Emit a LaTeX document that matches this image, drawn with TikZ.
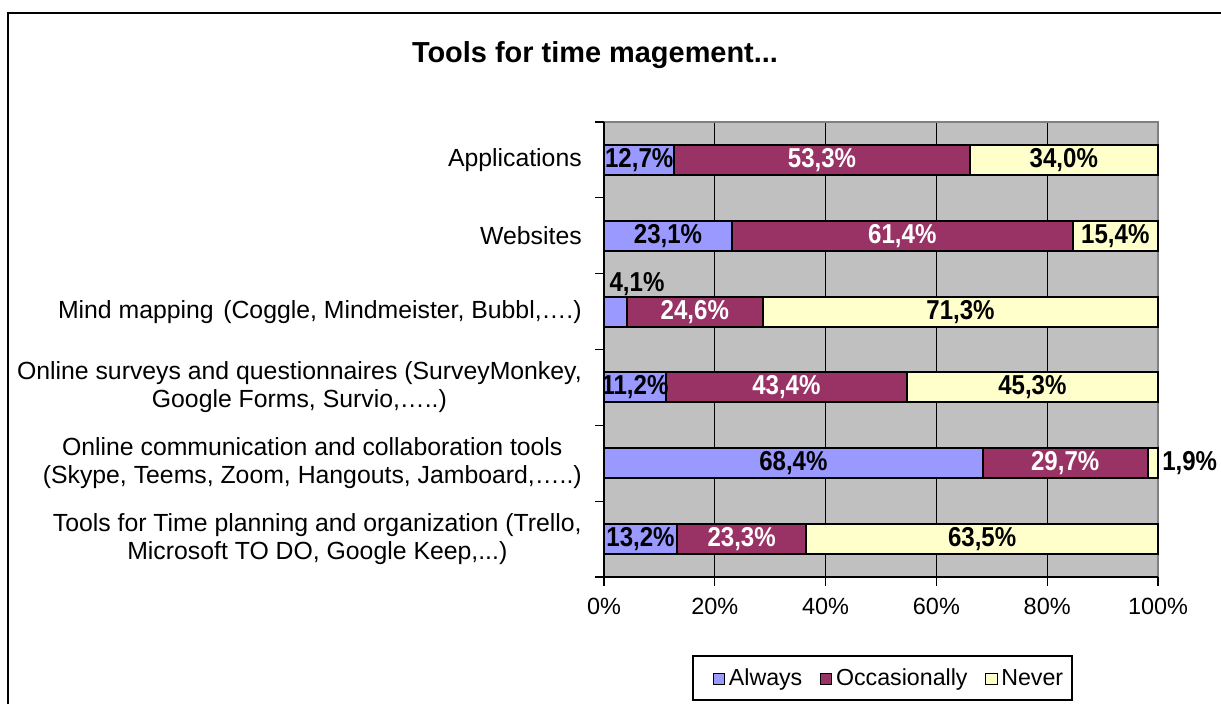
\documentclass[tikz,border=0pt]{standalone}
\usepackage{fontspec}
\setmainfont{Liberation Sans}
\newfontfamily\valfont[FakeStretch=0.88]{Liberation Sans}
\usetikzlibrary{positioning}

\definecolor{always}{RGB}{153,153,255}
\definecolor{occas}{RGB}{153,51,102}
\definecolor{never}{RGB}{255,255,204}
\definecolor{plotgray}{RGB}{192,192,192}
\definecolor{rimgray}{RGB}{128,128,128}

\tikzset{
  seg/.style={draw=black, line width=1.5pt},
  val/.style={inner sep=0pt, font=\valfont\fontsize{20.5}{24}\selectfont\bfseries},
  cat/.style={anchor=east, inner sep=0pt, align=center, font=\fontsize{18.6}{21}\selectfont},
  axlabel/.style={inner sep=0pt, font=\fontsize{17.6}{21}\selectfont},
  lgbox/.style={draw=black, line width=0.9pt, minimum size=8.5pt, inner sep=0pt},
  lgtext/.style={inner sep=0pt, text height=12.5pt, text depth=3.5pt, font=\fontsize{17.4}{20}\selectfont}
}

\begin{document}
\begin{tikzpicture}[x=0.75pt,y=0.75pt,yscale=-1,xscale=1]
\useasboundingbox (0,0) rectangle (1221,704);

%Shape: Frame
\draw[line width=1.5pt] (7.5,704) -- (7.5,12.5) -- (1221,12.5);

% Text Node
\node[inner sep=0pt, font=\fontsize{21.7}{26}\selectfont\bfseries] (title) at (595,55) {Tools for time magement...};

%Shape: Plot area
\fill[plotgray] (604,122) rectangle (1158,577);
%Straight Lines: grid
\draw[line width=0.9pt] (714.8,122) -- (714.8,577);
\draw[line width=0.9pt] (825.6,122) -- (825.6,577);
\draw[line width=0.9pt] (936.4,122) -- (936.4,577);
\draw[line width=0.9pt] (1047.2,122) -- (1047.2,577);
\draw[rimgray, line width=1pt] (604,122) -- (1158,122) -- (1158,577);
%Straight Lines: axes
\draw[line width=1.2pt] (604,122) -- (604,577) -- (1158,577);
\draw[line width=0.9pt] (595,122) -- (604,122) (595,197.8) -- (604,197.8) (595,273.7) -- (604,273.7) (595,349.5) -- (604,349.5) (595,425.3) -- (604,425.3) (595,501.2) -- (604,501.2) (595,577) -- (604,577);
\draw[line width=0.9pt] (604,577) -- (604,586) (714.8,577) -- (714.8,586) (825.6,577) -- (825.6,586) (936.4,577) -- (936.4,586) (1047.2,577) -- (1047.2,586) (1158,577) -- (1158,586);

% Text Node: axis labels
\node[axlabel] (x0) at (604,606) {0\%};
\node[axlabel] (x20) at (714.8,606) {20\%};
\node[axlabel] (x40) at (825.6,606) {40\%};
\node[axlabel] (x60) at (936.4,606) {60\%};
\node[axlabel] (x80) at (1047.2,606) {80\%};
\node[axlabel] (x100) at (1158,606) {100\%};

%Shape: Applications
\draw[seg, fill=always] (604,145) rectangle (674.4,175);
\draw[seg, fill=occas] (674.4,145) rectangle (969.6,175);
\draw[seg, fill=never] (969.6,145) rectangle (1158,175);
%Shape: Websites
\draw[seg, fill=always] (604,220.8) rectangle (732.1,250.8);
\draw[seg, fill=occas] (732.1,220.8) rectangle (1072.6,250.8);
\draw[seg, fill=never] (1072.6,220.8) rectangle (1158,250.8);
%Shape: Mind mapping
\draw[seg, fill=always] (604,296.6) rectangle (626.7,326.6);
\draw[seg, fill=occas] (626.7,296.6) rectangle (763,326.6);
\draw[seg, fill=never] (763,296.6) rectangle (1158,326.6);
%Shape: Online surveys
\draw[seg, fill=always] (604,372.4) rectangle (666.1,402.4);
\draw[seg, fill=occas] (666.1,372.4) rectangle (906.8,402.4);
\draw[seg, fill=never] (906.8,372.4) rectangle (1158,402.4);
%Shape: Online communication
\draw[seg, fill=always] (604,448.2) rectangle (982.9,478.2);
\draw[seg, fill=occas] (982.9,448.2) rectangle (1147.5,478.2);
\draw[seg, fill=never] (1147.5,448.2) rectangle (1158,478.2);
%Shape: Time planning
\draw[seg, fill=always] (604,524.1) rectangle (677.1,554.1);
\draw[seg, fill=occas] (677.1,524.1) rectangle (806.2,554.1);
\draw[seg, fill=never] (806.2,524.1) rectangle (1158,554.1);

% Text Node: values
\node[val] (appA) at (639.2,160) {12,7\%};
\node[val, white] (appO) at (822,160) {53,3\%};
\node[val] (appN) at (1063.8,160) {34,0\%};
\node[val] (webA) at (668,235.8) {23,1\%};
\node[val, white] (webO) at (902.3,235.8) {61,4\%};
\node[val] (webN) at (1115.3,235.8) {15,4\%};
\node[val] (mindA) at (637,284) {4,1\%};
\node[val, white] (mindO) at (694.8,311.6) {24,6\%};
\node[val] (mindN) at (960.5,311.6) {71,3\%};
\node[val] (survA) at (635,387.4) {11,2\%};
\node[val, white] (survO) at (786.4,387.4) {43,4\%};
\node[val] (survN) at (1032.4,387.4) {45,3\%};
\node[val] (commA) at (793.4,463.2) {68,4\%};
\node[val, white] (commO) at (1065.2,463.2) {29,7\%};
\node[val, anchor=west] (commN) at (1162,463.2) {1,9\%};
\node[val] (planA) at (640.5,539.1) {13,2\%};
\node[val, white] (planO) at (741.6,539.1) {23,3\%};
\node[val] (planN) at (982.1,539.1) {63,5\%};

% Text Node: categories
\node[cat] (app) at (582,160) {Applications};
\node[cat] (web) at (582,235.8) {Websites};
\node[cat] (mind) at (582,311.6) {Mind mapping\hspace{2pt} (Coggle, Mindmeister, Bubbl,….)};
\node[cat] (surv) at (582,387.4) {Online surveys and questionnaires (SurveyMonkey,\\Google Forms, Survio,…..)};
\node[cat] (comm) at (582,463.2) {Online communication and collaboration tools\\(Skype, Teems, Zoom, Hangouts, Jamboard,…..)};
\node[cat] (plan) at (582,539.1) {Tools for Time planning and organization (Trello,\\Microsoft TO DO, Google Keep,...)};

%Shape: Legend
\draw[line width=1pt] (693,656) rectangle (1072,700);
\node[lgbox, fill=always] (lgA) at (719,679) {};
\node[lgtext, right=2.5pt of lgA] (lgAt) {Always};
\node[lgbox, fill=occas, right=13pt of lgAt] (lgO) {};
\node[lgtext, right=2.5pt of lgO] (lgOt) {Occasionally};
\node[lgbox, fill=never, right=13pt of lgOt] (lgN) {};
\node[lgtext, right=2.5pt of lgN] (lgNt) {Never};

\end{tikzpicture}
\end{document}
